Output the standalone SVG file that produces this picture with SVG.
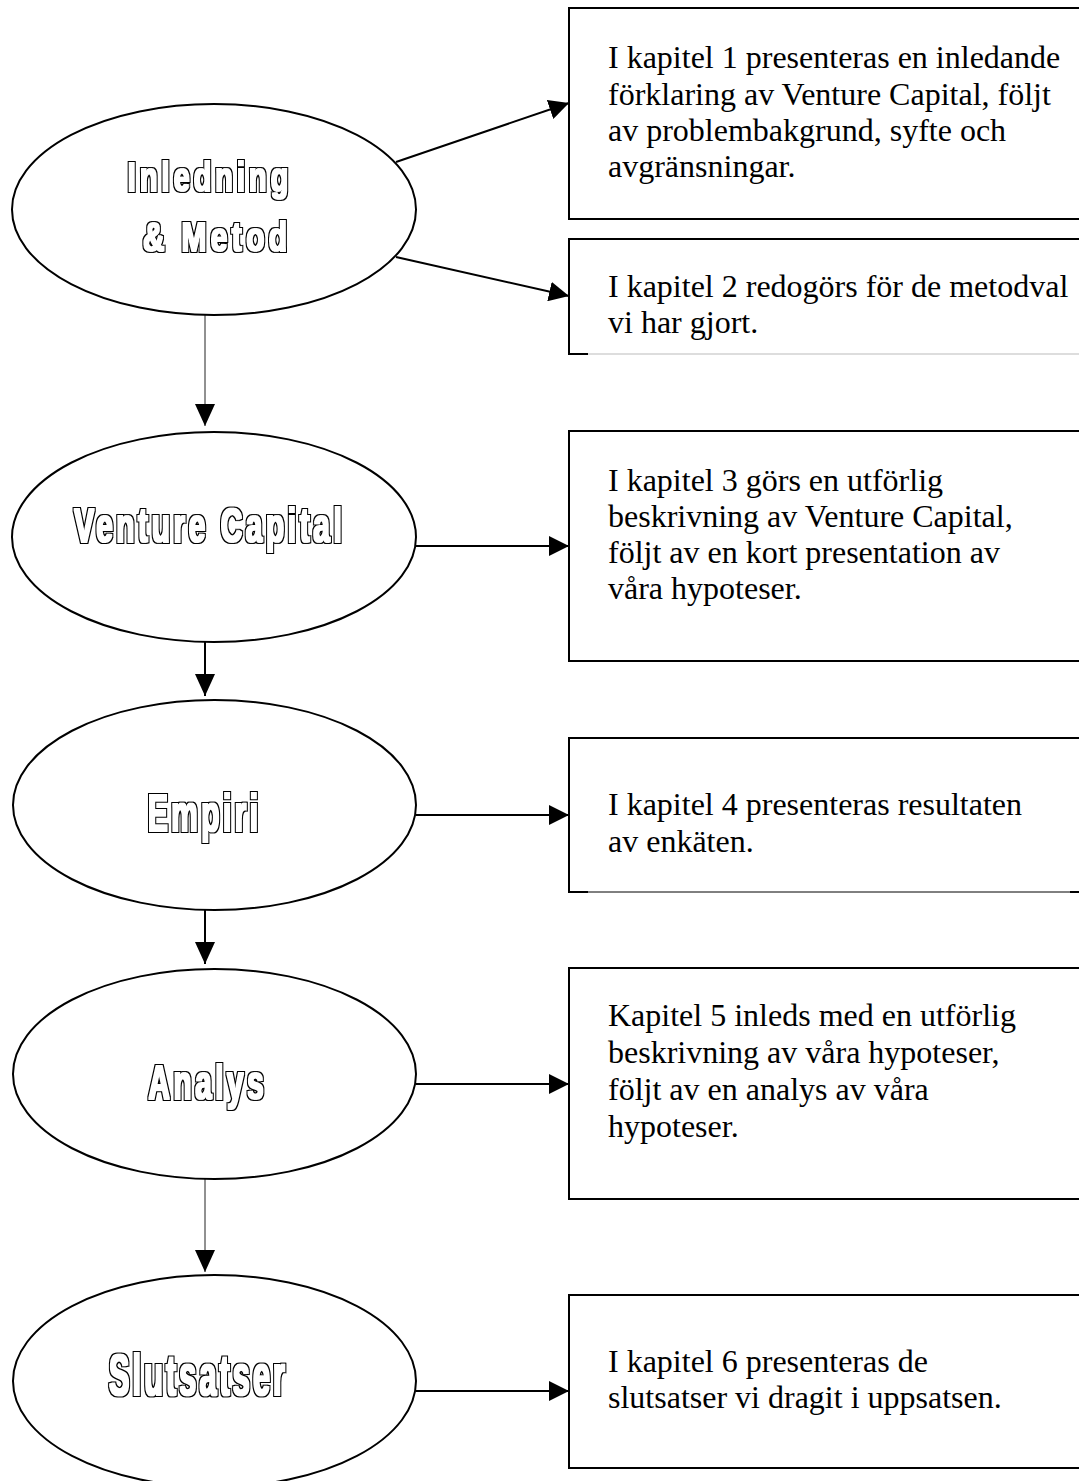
<svg xmlns="http://www.w3.org/2000/svg" width="1079" height="1481" viewBox="0 0 1079 1481">
<style>
  .ell { fill: #fff; stroke: #000; stroke-width: 2; }
  .box { fill: #fff; stroke: #000; stroke-width: 2; }
  .title { font-family: "Liberation Sans", Arial, sans-serif; font-weight: bold; fill: #000; text-anchor: middle; letter-spacing: 6px; }
  .txt { font-family: "Liberation Serif", "Times New Roman", serif; font-size: 32px; fill: #000; }
  .con { stroke: #000; stroke-width: 2; fill: none; }
  .thin { stroke: #222; stroke-width: 1; fill: none; }
</style>
<defs>
  <filter id="outl" x="-10%" y="-30%" width="120%" height="160%" color-interpolation-filters="sRGB">
    <feMorphology in="SourceAlpha" operator="dilate" radius="0.8" result="inner"/>
    <feMorphology in="SourceAlpha" operator="dilate" radius="2.1" result="outer"/>
    <feFlood flood-color="#000000" result="black"/>
    <feComposite in="black" in2="outer" operator="in" result="blackOuter"/>
    <feFlood flood-color="#ffffff" result="white"/>
    <feComposite in="white" in2="inner" operator="in" result="whiteInner"/>
    <feMerge>
      <feMergeNode in="blackOuter"/>
      <feMergeNode in="whiteInner"/>
    </feMerge>
  </filter>
  <marker id="ah" viewBox="0 0 20 20" refX="20" refY="10" markerWidth="20" markerHeight="20" markerUnits="userSpaceOnUse" orient="auto">
    <path d="M0,0 L20,10 L0,20 z" fill="#000"/>
  </marker>
  <marker id="ahv" viewBox="0 0 22 20" refX="22" refY="10" markerWidth="22" markerHeight="20" markerUnits="userSpaceOnUse" orient="auto">
    <path d="M0,0 L22,10 L0,20 z" fill="#000"/>
  </marker>
</defs>

<g id="connectors">
  <line class="con" x1="396" y1="162" x2="569" y2="103" marker-end="url(#ah)"/>
  <line class="con" x1="396" y1="257" x2="569" y2="296" marker-end="url(#ah)"/>
  <line class="thin" x1="205" y1="312" x2="205" y2="426" marker-end="url(#ahv)"/>
  <line class="con" x1="416" y1="546" x2="569" y2="546" marker-end="url(#ah)"/>
  <line class="con" x1="205" y1="637" x2="205" y2="696" marker-end="url(#ahv)"/>
  <line class="con" x1="416" y1="815" x2="569" y2="815" marker-end="url(#ah)"/>
  <line class="con" x1="205" y1="907" x2="205" y2="964" marker-end="url(#ahv)"/>
  <line class="con" x1="416" y1="1084" x2="569" y2="1084" marker-end="url(#ah)"/>
  <line class="thin" x1="205" y1="1176" x2="205" y2="1272" marker-end="url(#ahv)"/>
  <line class="con" x1="416" y1="1391" x2="569" y2="1391" marker-end="url(#ah)"/>
</g>

<g id="node-inledning">
  <ellipse class="ell" cx="214" cy="209.5" rx="202" ry="105.5"/>
  <g filter="url(#outl)">
    <text class="title" font-size="41" x="3" y="0" transform="translate(208,191) scale(0.697,1)">Inledning</text>
    <text class="title" font-size="41" x="3" y="0" transform="translate(215,251) scale(0.728,1)">&amp; Metod</text>
  </g>
</g>

<g id="node-venture">
  <ellipse class="ell" cx="214" cy="537" rx="202" ry="105"/>
  <g filter="url(#outl)">
    <text class="title" font-size="49" x="3" y="0" transform="translate(208,542) scale(0.607,1)">Venture Capital</text>
  </g>
</g>

<g id="node-empiri">
  <ellipse class="ell" cx="214.5" cy="805" rx="201.5" ry="105"/>
  <g filter="url(#outl)">
    <text class="title" font-size="51" x="3" y="0" transform="translate(203,831) scale(0.583,1)">Empiri</text>
  </g>
</g>

<g id="node-analys">
  <ellipse class="ell" cx="214.5" cy="1074" rx="201.5" ry="105"/>
  <g filter="url(#outl)">
    <text class="title" font-size="48" x="3" y="0" transform="translate(206,1099) scale(0.614,1)">Analys</text>
  </g>
</g>

<g id="node-slutsatser">
  <ellipse class="ell" cx="214.5" cy="1381" rx="201.5" ry="106"/>
  <g filter="url(#outl)">
    <text class="title" font-size="58" x="3" y="0" transform="translate(197,1395) scale(0.526,1)">Slutsatser</text>
  </g>
</g>

<g id="box-1">
  <rect class="box" x="569" y="8" width="520" height="211"/>
  <text class="txt" x="608" y="68">I kapitel 1 presenteras en inledande</text>
  <text class="txt" x="608" y="104.5">förklaring av Venture Capital, följt</text>
  <text class="txt" x="608" y="141">av problembakgrund, syfte och</text>
  <text class="txt" x="608" y="177">avgränsningar.</text>
</g>

<g id="box-2">
  <path d="M1090,239 L569,239 L569,354 L588,354" fill="#fff" stroke="#000" stroke-width="2"/>
  <line x1="588" y1="354" x2="1079" y2="354" stroke="#bbb" stroke-width="1"/>
  <text class="txt" x="608" y="297">I kapitel 2 redogörs för de metodval</text>
  <text class="txt" x="608" y="333">vi har gjort.</text>
</g>

<g id="box-3">
  <rect class="box" x="569" y="431" width="520" height="230"/>
  <text class="txt" x="608" y="491">I kapitel 3 görs en utförlig</text>
  <text class="txt" x="608" y="527">beskrivning av Venture Capital,</text>
  <text class="txt" x="608" y="563">följt av en kort presentation av</text>
  <text class="txt" x="608" y="599">våra hypoteser.</text>
</g>

<g id="box-4">
  <path d="M1090,738 L569,738 L569,892 L588,892" fill="#fff" stroke="#000" stroke-width="2"/>
  <line x1="588" y1="892" x2="1070" y2="892" stroke="#000" stroke-width="1"/>
  <line x1="1070" y1="892" x2="1079" y2="892" stroke="#000" stroke-width="2"/>
  <text class="txt" x="608" y="815">I kapitel 4 presenteras resultaten</text>
  <text class="txt" x="608" y="852">av enkäten.</text>
</g>

<g id="box-5">
  <rect class="box" x="569" y="968" width="520" height="231"/>
  <text class="txt" x="608" y="1026">Kapitel 5 inleds med en utförlig</text>
  <text class="txt" x="608" y="1063">beskrivning av våra hypoteser,</text>
  <text class="txt" x="608" y="1100">följt av en analys av våra</text>
  <text class="txt" x="608" y="1137">hypoteser.</text>
</g>

<g id="box-6">
  <rect class="box" x="569" y="1295" width="520" height="173"/>
  <text class="txt" x="608" y="1372">I kapitel 6 presenteras de</text>
  <text class="txt" x="608" y="1408">slutsatser vi dragit i uppsatsen.</text>
</g>
</svg>
